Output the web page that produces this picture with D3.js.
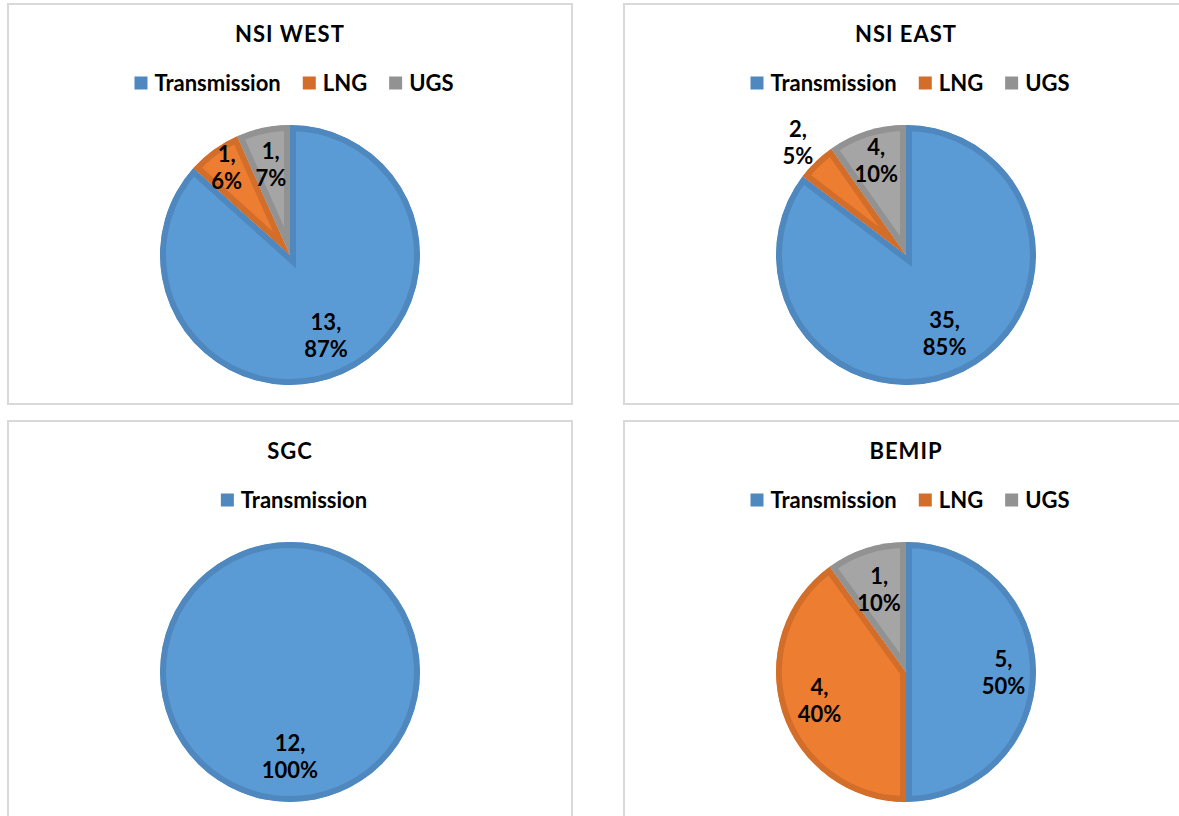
<!DOCTYPE html>
<html><head><meta charset="utf-8">
<script src="https://cdn.jsdelivr.net/npm/d3@7"></script>
<style>body{margin:0;background:#fff}svg{display:block}</style>
</head><body>
<svg id="chart" width="1179" height="816"></svg>
<script>
// ---- data ----
const allCategories = ["Transmission", "LNG", "UGS"];
const chartTitles = ["NSI WEST", "NSI EAST", "SGC", "BEMIP"];

const nsiWestCategories = ["Transmission", "LNG", "UGS"];
const nsiWestValues = [13, 1, 1];
const nsiWestPercents = ["87%", "6%", "7%"];

const nsiEastCategories = ["Transmission", "LNG", "UGS"];
const nsiEastValues = [35, 2, 4];
const nsiEastPercents = ["85%", "5%", "10%"];

const sgcCategories = ["Transmission"];
const sgcValues = [12];
const sgcPercents = ["100%"];

const bemipCategories = ["Transmission", "LNG", "UGS"];
const bemipValues = [5, 4, 1];
const bemipPercents = ["50%", "40%", "10%"];

// ---- styles / layout ----
const fillColor = d3.scaleOrdinal().domain(allCategories).range(["#5B9BD5", "#ED7D31", "#A5A5A5"]);
const edgeColor = d3.scaleOrdinal().domain(allCategories).range(["#4F88BE", "#D36D2A", "#929292"]);

const charts = [
  {title: chartTitles[0], cats: nsiWestCategories, vals: nsiWestValues, pcts: nsiWestPercents, x0: 8, y0: 4, lr: [0.68, 0.83, 0.71]},
  {title: chartTitles[1], cats: nsiEastCategories, vals: nsiEastValues, pcts: nsiEastPercents, x0: 624, y0: 4, lr: [0.67, 1.2, 0.76]},
  {title: chartTitles[2], cats: sgcCategories, vals: sgcValues, pcts: sgcPercents, x0: 8, y0: 421, lr: [0.65]},
  {title: chartTitles[3], cats: bemipCategories, vals: bemipValues, pcts: bemipPercents, x0: 624, y0: 421, lr: [0.75, 0.70, 0.67]}
];

const PW = 564, PH = 400, R = 130;
const FONT = "Lato, 'Open Sans', sans-serif";
const FS = 22;
const svg = d3.select("#chart");

const pie = d3.pie().sort(null).value(d => d.v);
const arc = d3.arc().innerRadius(0).outerRadius(R);

charts.forEach((c, ci) => {
  const g = svg.append("g").attr("transform", `translate(${c.x0},${c.y0})`);
  g.append("rect").attr("x", 0).attr("y", 0).attr("width", PW).attr("height", PH)
    .attr("fill", "#fff").attr("stroke", "#D9D9D9").attr("stroke-width", 2);

  const cx = PW / 2;
  // title
  g.append("text").attr("x", cx).attr("y", 38).attr("text-anchor", "middle")
    .attr("font-family", FONT).attr("font-weight", "bold").attr("font-size", FS)
    .attr("letter-spacing", 1).attr("fill", "#000").text(c.title);

  // legend
  const leg = g.append("g");
  const items = c.cats.map(k => {
    const t = leg.append("text").attr("font-family", FONT).attr("font-weight", "bold")
      .attr("font-size", FS).attr("fill", "#000").attr("y", 79 + 7.5).text(k);
    return {k, t, w: t.node().getComputedTextLength()};
  });
  const sq = 13, gap1 = 7, gap2 = 22;
  const total = d3.sum(items, d => sq + gap1 + d.w) + gap2 * (items.length - 1);
  let xx = cx - total / 2 + 4;
  items.forEach(it => {
    leg.append("rect").attr("x", xx).attr("y", 79 - 6.5).attr("width", sq).attr("height", sq)
      .attr("fill", edgeColor(it.k));
    it.t.attr("x", xx + sq + gap1);
    xx += sq + gap1 + it.w + gap2;
  });

  // pie
  const data = c.cats.map((k, i) => ({k, v: c.vals[i], p: c.pcts[i], i}));
  const arcs = pie(data);
  const pg = g.append("g").attr("transform", `translate(${cx},251)`);
  arcs.forEach((a, i) => {
    const id = `clip-${ci}-${i}`;
    const dPath = arc(a);
    pg.append("clipPath").attr("id", id).append("path").attr("d", dPath);
    pg.append("path").attr("d", dPath)
      .attr("fill", fillColor(a.data.k))
      .attr("stroke", edgeColor(a.data.k))
      .attr("stroke-width", 12)
      .attr("stroke-linejoin", "miter")
      .attr("stroke-miterlimit", 20)
      .attr("clip-path", `url(#${id})`);
  });
  // labels
  arcs.forEach((a, i) => {
    const mid = (a.startAngle + a.endAngle) / 2;
    const rr = R * c.lr[i];
    const lx = Math.sin(mid) * rr, ly = -Math.cos(mid) * rr;
    const t = pg.append("text").attr("text-anchor", "middle")
      .attr("font-family", FONT).attr("font-weight", "bold").attr("font-size", FS).attr("fill", "#000");
    t.append("tspan").attr("x", lx).attr("y", ly - 5.5).text(`${a.data.v},`);
    t.append("tspan").attr("x", lx).attr("y", ly + 21.5).text(a.data.p);
  });
});
</script>
</body></html>
